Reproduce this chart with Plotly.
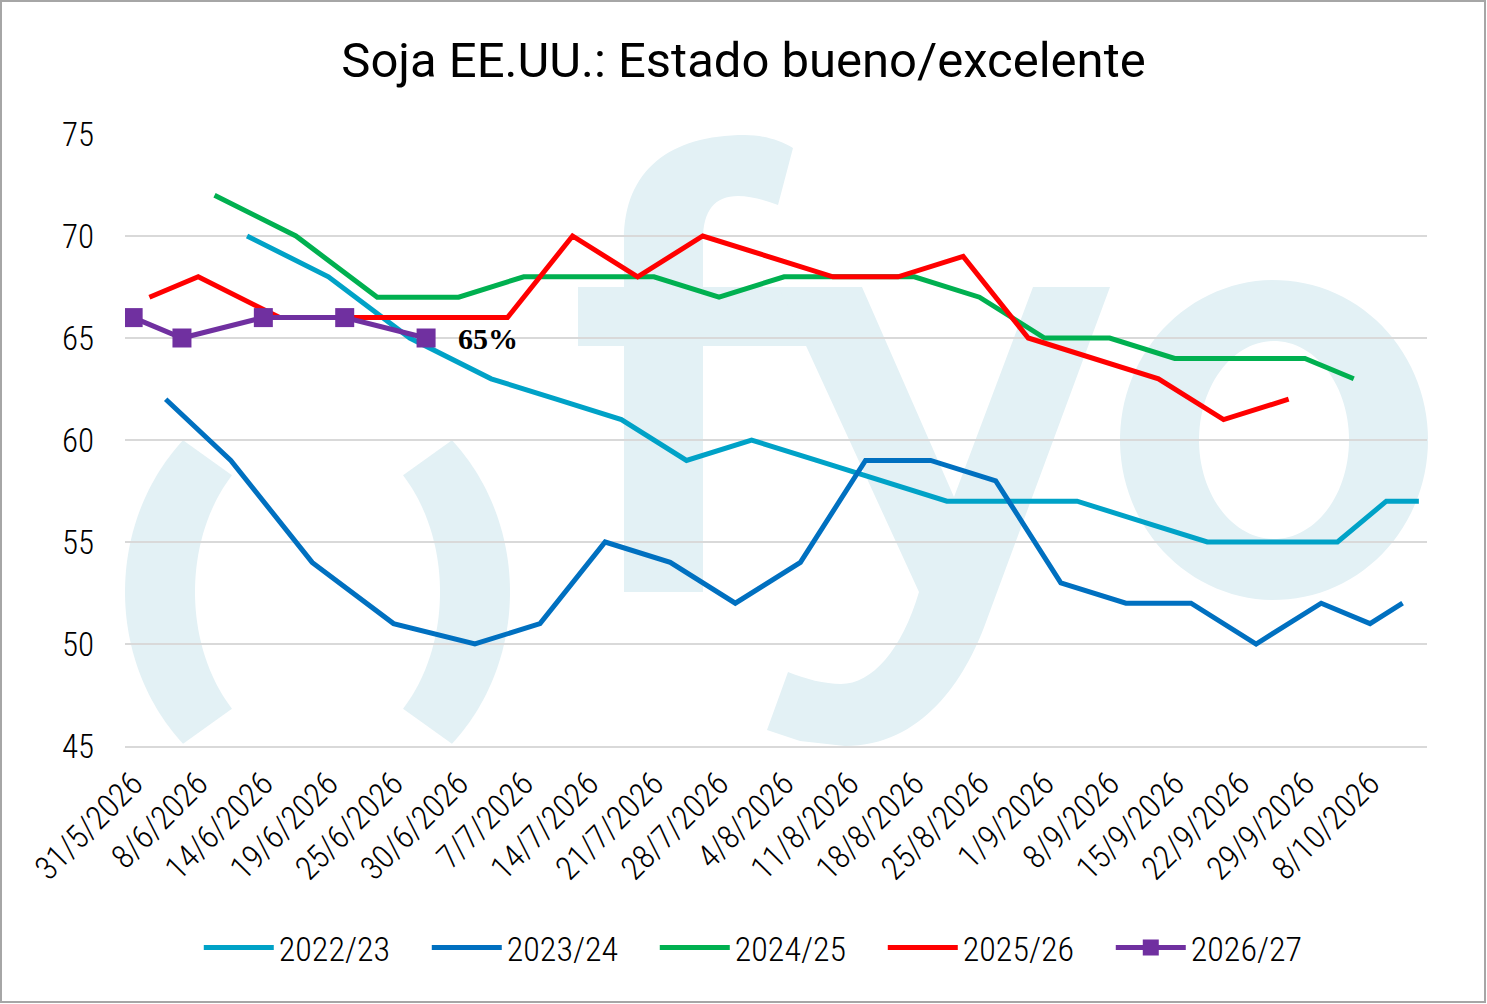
import numpy as np
import plotly.graph_objects as go

# ---------------- data ----------------
x_labels = ["31/5/2026", "8/6/2026", "14/6/2026", "19/6/2026", "25/6/2026",
            "30/6/2026", "7/7/2026", "14/7/2026", "21/7/2026", "28/7/2026",
            "4/8/2026", "11/8/2026", "18/8/2026", "25/8/2026", "1/9/2026",
            "8/9/2026", "15/9/2026", "22/9/2026", "29/9/2026", "8/10/2026"]
label_step = 4          # one label every 4 categories
n_categories = 80

x_2223 = [7, 12, 17, 22, 26, 30, 34, 38, 42, 46, 50, 54, 58, 62, 66, 70, 74, 77, 79]
y_2223 = [70, 68, 65, 63, 62, 61, 59, 60, 59, 58, 57, 57, 57, 56, 55, 55, 55, 57, 57]

x_2324 = [2, 6, 11, 16, 21, 25, 29, 33, 37, 41, 45, 49, 53, 57, 61, 65, 69, 73, 76, 78]
y_2324 = [62, 59, 54, 51, 50, 51, 55, 54, 52, 54, 59, 59, 58, 53, 52, 52, 50, 52, 51, 52]

x_2425 = [5, 10, 15, 20, 24, 28, 32, 36, 40, 44, 48, 52, 56, 60, 64, 68, 72, 75]
y_2425 = [72, 70, 67, 67, 68, 68, 68, 67, 68, 68, 68, 67, 65, 65, 64, 64, 64, 63]

x_2526 = [1, 4, 9, 14, 19, 23, 27, 31, 35, 39, 43, 47, 51, 55, 59, 63, 67, 71]
y_2526 = [67, 68, 66, 66, 66, 66, 70, 68, 70, 69, 68, 68, 69, 65, 64, 63, 61, 62]

x_2627 = [0, 3, 8, 13, 18]
y_2627 = [66, 65, 66, 66, 65]

series_names = ["2022/23", "2023/24", "2024/25", "2025/26", "2026/27"]
series_colors = ["#00A2C7", "#0070C0", "#00B050", "#FF0000", "#7030A0"]

# ---------------- layout constants ----------------
W, H = 1487, 1004
L, R, T, B = 125, 1427, 134, 746
NARROW = "Liberation Sans Narrow, Roboto Condensed, Roboto, sans-serif"
WM = "#E3F1F5"


def P(xp, yp):
    return ((xp - L) / (R - L), (B - yp) / (B - T))


def fmt(pt):
    x, y = P(*pt)
    return f"{x:.5f},{y:.5f}"


def poly(points):
    return "M" + " L".join(fmt(p) for p in points) + " Z"


def ellipse_pts(cx, cy, rx, ry, a0, a1, n=60):
    th = np.radians(np.linspace(a0, a1, n))
    return [(cx + rx * np.cos(t), cy - ry * np.sin(t)) for t in th]


shapes = []


def wm_shape(path, evenodd=False):
    d = dict(type="path", path=path, xref="paper", yref="paper",
             fillcolor=WM, line=dict(width=0), layer="below")
    if evenodd:
        d["fillrule"] = "evenodd"
    shapes.append(d)


# watermark "(" and ")"
pcx, pcy = 317.5, 592
for a0, a1 in [(134.3, 225.7), (-45.7, 45.7)]:
    outer = ellipse_pts(pcx, pcy, 192.5, 212, a0, a1)
    inner = ellipse_pts(pcx, pcy, 122.5, 163, a1, a0)
    wm_shape(poly(outer + inner))

# watermark "f"
f_path = ("M" + fmt((624, 592)) + " L" + fmt((624, 346)) + " L" + fmt((578, 346)) +
          " L" + fmt((578, 287)) + " L" + fmt((624, 287)) + " L" + fmt((624, 240)) +
          " C" + fmt((624, 170)) + " " + fmt((670, 135)) + " " + fmt((745, 135)) +
          " C" + fmt((762, 135)) + " " + fmt((780, 140)) + " " + fmt((793, 148)) +
          " L" + fmt((778, 205)) +
          " C" + fmt((765, 200)) + " " + fmt((750, 196)) + " " + fmt((738, 196)) +
          " C" + fmt((715, 196)) + " " + fmt((703, 210)) + " " + fmt((703, 240)) +
          " L" + fmt((703, 287)) + " L" + fmt((806, 287)) + " L" + fmt((806, 346)) +
          " L" + fmt((703, 346)) + " L" + fmt((703, 592)) + " Z")
wm_shape(f_path)

# watermark "y"
y_path = ("M" + fmt((779, 287)) + " L" + fmt((862, 287)) + " L" + fmt((954, 497)) +
          " L" + fmt((1033, 287)) + " L" + fmt((1110, 287)) + " L" + fmt((986, 622)) +
          " C" + fmt((965, 680)) + " " + fmt((922, 746)) + " " + fmt((845, 746)) +
          " L" + fmt((800, 741)) + " L" + fmt((767, 730)) + " L" + fmt((788, 672)) +
          " C" + fmt((805, 679)) + " " + fmt((825, 684)) + " " + fmt((841, 684)) +
          " C" + fmt((872, 684)) + " " + fmt((902, 650)) + " " + fmt((919, 592)) +
          " Z")
wm_shape(y_path)

# watermark "o"
o_out = ellipse_pts(1274, 440, 154, 160, 0, 360, 120)
o_in = ellipse_pts(1274, 440, 75, 99, 0, 360, 120)
wm_shape(poly(o_out) + " " + poly(o_in), evenodd=True)

# outer border of the chart
bx0, by0 = P(1, 1002)
bx1, by1 = P(1485, 1)
shapes.append(dict(type="rect", xref="paper", yref="paper", x0=bx0, y0=by0,
                   x1=bx1, y1=by1, line=dict(color="#A6A6A6", width=2),
                   fillcolor="rgba(0,0,0,0)", layer="above"))

# ---------------- traces ----------------
fig = go.Figure()
all_x = [x_2223, x_2324, x_2425, x_2526, x_2627]
all_y = [y_2223, y_2324, y_2425, y_2526, y_2627]
for i, (xs, ys) in enumerate(zip(all_x, all_y)):
    last = i == len(all_x) - 1
    fig.add_trace(go.Scatter(
        x=xs, y=ys, name=series_names[i],
        mode="lines+markers" if last else "lines",
        line=dict(color=series_colors[i], width=5),
        marker=dict(symbol="square", size=19, color=series_colors[i]) if last else None,
    ))

annotations = [dict(x=x_2627[-1], y=y_2627[-1], xref="x", yref="y",
                    text=f"{y_2627[-1]}%", showarrow=False, xanchor="left",
                    yanchor="middle", xshift=30, yshift=0,
                    font=dict(family="Liberation Serif, DejaVu Serif, serif",
                              size=30, color="#000000", weight="bold"))]

fig.update_layout(
    width=W, height=H,
    margin=dict(l=L, r=W - R, t=T, b=H - B, pad=0),
    paper_bgcolor="white", plot_bgcolor="rgba(0,0,0,0)",
    title=dict(text="Soja EE.UU.: Estado bueno/excelente", x=0.5, xanchor="center",
               xref="container", yref="container", y=1 - 60 / H, yanchor="middle",
               font=dict(family="Roboto, sans-serif", size=49, color="#000000")),
    showlegend=True,
    legend=dict(orientation="h", xref="container", yref="container",
                x=0.517, xanchor="center", y=1 - 948 / H, yanchor="middle",
                font=dict(family=NARROW, size=34, color="#000000", weight=300),
                itemwidth=70, entrywidth=143, entrywidthmode="pixels",
                bgcolor="rgba(0,0,0,0)"),
    shapes=shapes,
    annotations=annotations,
)

fig.update_xaxes(
    type="linear", range=[-0.5, n_categories - 0.5],
    tickmode="array",
    tickvals=[label_step * k for k in range(len(x_labels))],
    ticktext=x_labels, tickangle=-45,
    tickfont=dict(family=NARROW, size=33, color="#000000", weight=300),
    showgrid=False, zeroline=False, ticks="",
    showline=True, linecolor="#D9D9D9", linewidth=2,
    ticklabelstandoff=3, automargin=False,
)
fig.update_yaxes(
    range=[45, 75], dtick=5, tick0=45,
    tickfont=dict(family=NARROW, size=33, color="#000000", weight=300),
    showgrid=True, gridcolor="#D9D9D9", gridwidth=2,
    zeroline=False, ticks="", showline=False,
    ticklabelstandoff=30, automargin=False,
)

fig.write_html("out.html", config={"displayModeBar": False},
               post_script="document.body.style.margin='0';document.body.style.overflow='hidden';")
